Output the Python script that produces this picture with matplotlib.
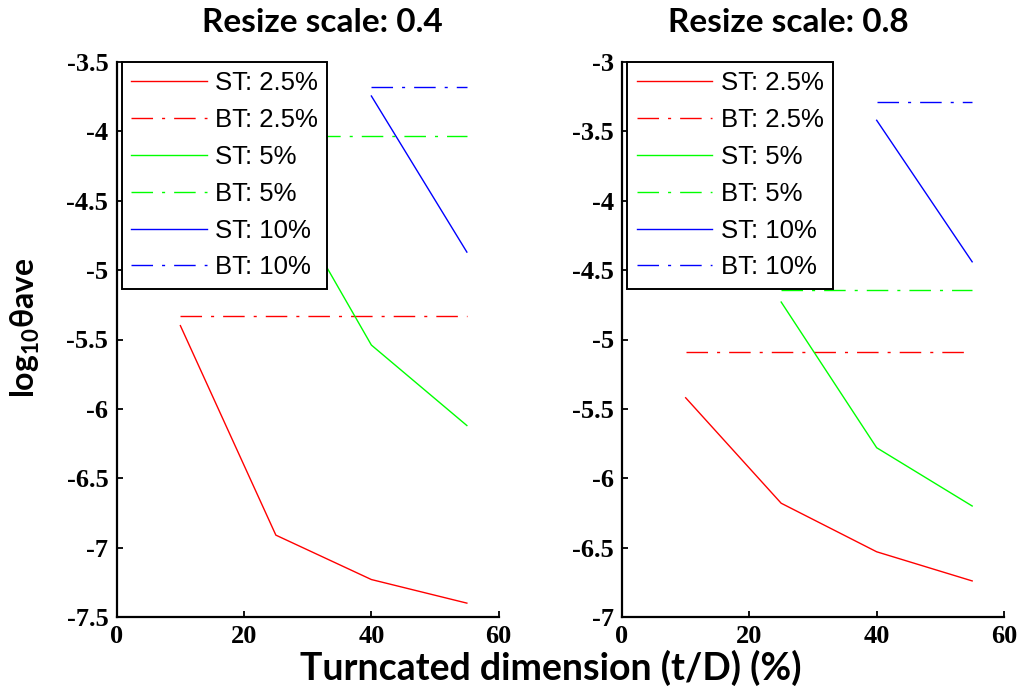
import matplotlib
matplotlib.use("Agg")
import matplotlib.pyplot as plt
from matplotlib.ticker import FuncFormatter

plt.rcParams['axes.unicode_minus'] = False
plt.rcParams['mathtext.fontset'] = 'custom'
plt.rcParams['mathtext.rm'] = 'Lato:bold'
plt.rcParams['mathtext.it'] = 'Lato:bold'
plt.rcParams['mathtext.bf'] = 'Lato:bold'

# ---- data ----
x_st = [10, 25, 40, 55]
titles = ["Resize scale: 0.4", "Resize scale: 0.8"]
labels = ["ST: 2.5%", "BT: 2.5%", "ST: 5%", "BT: 5%", "ST: 10%", "BT: 10%"]

# scale 0.4
s04_st25 = [-5.40, -6.91, -7.23, -7.40]
s04_bt25 = [-5.33, -5.33]
s04_st5_x = [25, 40, 55]
s04_st5 = [-4.34, -5.54, -6.12]
s04_bt5 = [-4.03, -4.03]
s04_st10_x = [40, 55]
s04_st10 = [-3.745, -4.87]
s04_bt10 = [-3.68, -3.68]

# scale 0.8
s08_st25 = [-5.42, -6.18, -6.53, -6.74]
s08_bt25 = [-5.09, -5.09]
s08_st5_x = [25, 40, 55]
s08_st5 = [-4.73, -5.78, -6.20]
s08_bt5 = [-4.64, -4.64]
s08_st10_x = [40, 55]
s08_st10 = [-3.42, -4.44]
s08_bt10 = [-3.286, -3.286]

bt25_x = [10, 55]
bt5_x = [25, 55]
bt10_x = [40, 55]

ylims = [(-7.5, -3.5), (-7, -3)]
yticks = [[-7.5, -7, -6.5, -6, -5.5, -5, -4.5, -4, -3.5],
          [-7, -6.5, -6, -5.5, -5, -4.5, -4, -3.5, -3]]
xticks = [0, 20, 40, 60]

datasets = [
    (s04_st25, s04_bt25, s04_st5_x, s04_st5, s04_bt5, s04_st10_x, s04_st10, s04_bt10),
    (s08_st25, s08_bt25, s08_st5_x, s08_st5, s08_bt5, s08_st10_x, s08_st10, s08_bt10),
]

W, H = 1023, 698
fig = plt.figure(figsize=(W / 100, H / 100), dpi=100)

ax_left_px = [116.7, 622]
ax_w_px = 382
ax_top_px, ax_bot_px = 62, 617

dd = (15.5, 6.5, 2.2, 6.5)
tick_family = ['Liberation Serif', 'DejaVu Serif']

title_cx = [322, 788]

for i in range(2):
    ax = fig.add_axes([ax_left_px[i] / W, 1 - ax_bot_px / H, ax_w_px / W,
                       (ax_bot_px - ax_top_px) / H])
    st25, bt25, st5x, st5, bt5, st10x, st10, bt10 = datasets[i]
    ax.plot(x_st, st25, color=(1, 0, 0), lw=1.0, label=labels[0])
    ax.plot(bt25_x, bt25, color=(1, 0, 0), lw=1.0, dashes=dd, label=labels[1])
    ax.plot(st5x, st5, color=(0, 1, 0), lw=1.0, label=labels[2])
    ax.plot(bt5_x, bt5, color=(0, 1, 0), lw=1.0, dashes=dd, label=labels[3])
    ax.plot(st10x, st10, color=(0, 0, 1), lw=1.0, label=labels[4])
    ax.plot(bt10_x, bt10, color=(0, 0, 1), lw=1.0, dashes=dd, label=labels[5])

    ax.set_xlim(0, 60)
    ax.set_ylim(*ylims[i])
    ax.set_xticks(xticks)
    ax.set_yticks(yticks[i])
    ax.xaxis.set_major_formatter(FuncFormatter(lambda v, p: '%g' % v))
    ax.yaxis.set_major_formatter(FuncFormatter(lambda v, p: '%g' % v))
    for s in ['top', 'right']:
        ax.spines[s].set_visible(False)
    for s in ['left', 'bottom']:
        ax.spines[s].set_linewidth(1.6)
    ax.tick_params(direction='in', length=4, width=1.3, pad=6)
    for lab in ax.get_xticklabels() + ax.get_yticklabels():
        lab.set_fontfamily(tick_family)
        lab.set_fontweight('bold')
        lab.set_fontsize(19)

    leg = ax.legend(loc='upper left', bbox_to_anchor=((122 - ax_left_px[0]) / ax_w_px, 1.0),
                    borderaxespad=0,
                    prop=dict(family=['Liberation Sans', 'DejaVu Sans'], size=18.5),
                    handlelength=2.95, handletextpad=0.32, borderpad=0.36,
                    labelspacing=0.5, fancybox=False, framealpha=1,
                    edgecolor='black')
    leg.get_frame().set_linewidth(1.4)

    fig.text(title_cx[i] / W, 1 - 23 / H, titles[i], ha='center', va='center',
             family=['Lato', 'DejaVu Sans'], weight='bold', size=24)

fig.text(551 / W, 1 - 668 / H, "Turncated dimension (t/D) (%)", ha='center',
         va='center', family=['Lato', 'DejaVu Sans'], weight='bold', size=27)
fig.text(25 / W, 1 - 328 / H, r"log$_{10}$θave", ha='center', va='center',
         rotation=90, family=['Lato', 'DejaVu Sans'], weight='bold', size=23)

fig.savefig("out.png", dpi=100)
